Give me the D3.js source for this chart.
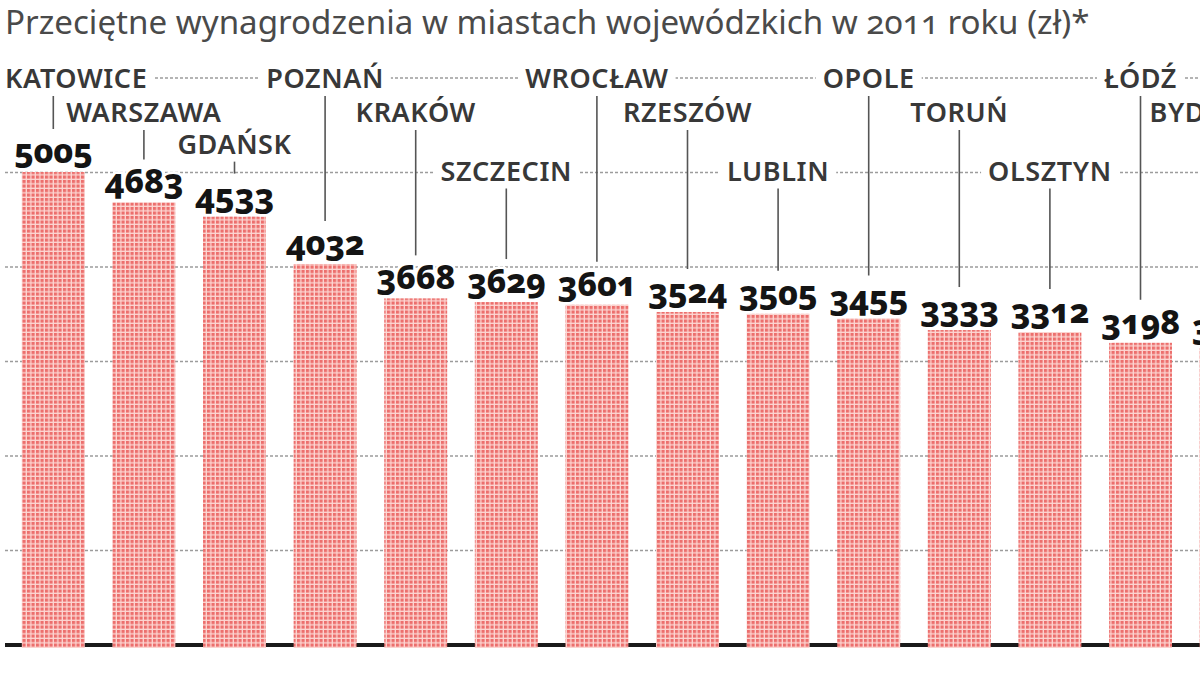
<!DOCTYPE html>
<html>
<head>
<meta charset="utf-8">
<script src="https://cdn.jsdelivr.net/npm/d3@7"></script>
<style>
  html, body { margin: 0; padding: 0; background: #fff; }
  svg { display: block; font-family: "Noto Sans", "Open Sans", sans-serif; }
  .num { font-feature-settings: "onum" 1; font-variant-numeric: oldstyle-nums; }
</style>
</head>
<body>
<svg id="chart" width="1200" height="680"></svg>
<script>
// average monthly wages in voivodeship capitals, 2011 (zł)
const title = 'Przeciętne wynagrodzenia w miastach wojewódzkich w 2011 roku (zł)*';
const cities = ['KATOWICE', 'WARSZAWA', 'GDAŃSK', 'POZNAŃ', 'KRAKÓW', 'SZCZECIN', 'WROCŁAW',
  'RZESZÓW', 'LUBLIN', 'OPOLE', 'TORUŃ', 'OLSZTYN', 'ŁÓDŹ', 'BYDGOSZCZ'];
const wages = [5005, 4683, 4533, 4032, 3668, 3629, 3601, 3524, 3505, 3455, 3333, 3312, 3198, 3140];
const gridTicks = [1000, 2000, 3000, 4000, 5000, 6000];

const W = 1200, H = 680;
const svg = d3.select('#chart');

const x = d3.scaleBand()
  .domain(cities)
  .range([8, 8 + cities.length * 90.6])
  .paddingInner(0.305)
  .paddingOuter(0.1525);

const y = d3.scaleLinear().domain([0, 6000]).range([645, 78]);

// halftone fill of the bars
const defs = svg.append('defs');
const pat = defs.append('pattern')
  .attr('id', 'dots')
  .attr('patternUnits', 'userSpaceOnUse')
  .attr('width', 4.5).attr('height', 4.5);
pat.append('rect').attr('width', 4.5).attr('height', 4.5).attr('fill', '#fcd6d2');
pat.append('rect').attr('width', 3.2).attr('height', 3.2).attr('fill', '#ec6f6d');

// title -- stretched to the width it has in the print
const t = svg.append('text')
  .attr('class', 'num')
  .attr('x', 5).attr('y', 34)
  .attr('fill', '#4a4a4a')
  .attr('font-size', 27)
  .text(title);
const tw = t.node().getComputedTextLength();
t.attr('font-size', 27 * 1085 / tw);

// dashed grid, one line per 1000 zł
svg.append('g')
  .selectAll('line')
  .data(gridTicks)
  .join('line')
  .attr('x1', 5).attr('x2', W)
  .attr('y1', (d) => y(d)).attr('y2', (d) => y(d))
  .attr('stroke', '#9c9c9c')
  .attr('stroke-width', 1.3)
  .attr('stroke-dasharray', '3,2');

// base line
svg.append('line')
  .attr('x1', 5).attr('x2', W)
  .attr('y1', y(0)).attr('y2', y(0))
  .attr('stroke', '#1a1a1a')
  .attr('stroke-width', 4);

const rows = cities.map((c, i) => ({ city: c, value: wages[i], i }));

// bars run a little past the base line so it only shows in the gaps
svg.append('g')
  .selectAll('rect')
  .data(rows)
  .join('rect')
  .attr('x', (d) => x(d.city))
  .attr('width', x.bandwidth())
  .attr('y', (d) => y(d.value))
  .attr('height', (d) => y(0) - y(d.value) + 3)
  .attr('fill', 'url(#dots)');

const cx = (d) => x(d.city) + x.bandwidth() / 2;
const valueBase = (d) => y(d.value) - 9;
const valueTop = (d) => valueBase(d) - 29;

// city names sit in three staggered tiers, the third one on the 5000 line
function labelMid(d) {
  const tier = d.i % 3;
  if (tier === 0) return y(6000);
  if (tier === 1) return 112;
  return Math.min(y(5000) - 2, valueTop(d) - 35);
}

// leader lines
svg.append('g')
  .selectAll('line')
  .data(rows)
  .join('line')
  .attr('x1', cx).attr('x2', cx)
  .attr('y1', (d) => labelMid(d) + 18)
  .attr('y2', (d) => valueTop(d) - 5)
  .attr('stroke', '#555')
  .attr('stroke-width', 1.6);

// city labels with a white knock-out behind them
const lab = svg.append('g')
  .selectAll('g')
  .data(rows)
  .join('g');

lab.append('text')
  .attr('x', cx)
  .attr('y', (d) => labelMid(d) + 10)
  .attr('text-anchor', 'middle')
  .attr('font-size', 27)
  .attr('font-weight', 600)
  .attr('letter-spacing', 0.6)
  .attr('fill', '#383838')
  .text((d) => d.city)
  .each(function () {
    const b = this.getBBox();
    if (b.x < 5) d3.select(this).attr('x', +d3.select(this).attr('x') + 5 - b.x);
  });

lab.insert('rect', 'text')
  .each(function () {
    const b = this.parentNode.querySelector('text').getBBox();
    d3.select(this)
      .attr('x', b.x - 7).attr('y', b.y + 6)
      .attr('width', b.width + 14).attr('height', b.height - 10)
      .attr('fill', '#fff');
  });

// values above the bars
svg.append('g')
  .selectAll('text')
  .data(rows)
  .join('text')
  .attr('class', 'num')
  .attr('x', cx)
  .attr('y', valueBase)
  .attr('text-anchor', 'middle')
  .attr('font-size', 34)
  .attr('font-weight', 800)
  .attr('fill', '#141414')
  .attr('stroke', '#fff')
  .attr('stroke-width', 5)
  .attr('paint-order', 'stroke')
  .attr('letter-spacing', -0.5)
  .text((d) => d.value);
</script>
</body>
</html>
